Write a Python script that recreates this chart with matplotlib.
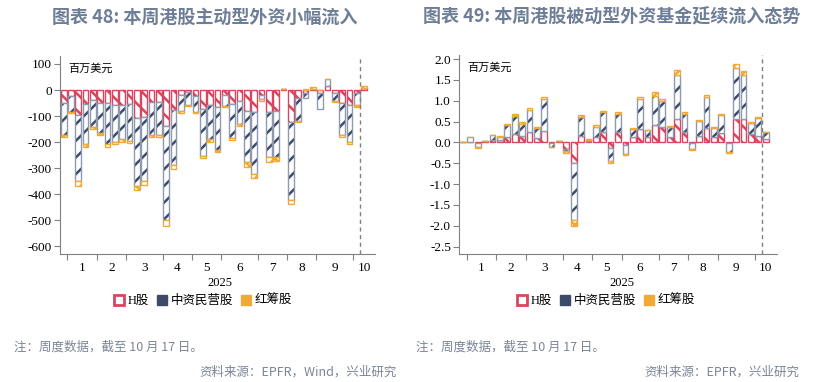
import matplotlib.pyplot as plt
import numpy as np
from matplotlib.patches import Patch

plt.rcParams['axes.unicode_minus'] = False
plt.rcParams['hatch.linewidth'] = 1.8
plt.rcParams['font.family'] = ['Noto Sans CJK SC', 'DejaVu Sans']

# DATOS
# -----
# mes de cada semana (la primera es la última semana de 2024)
meses = [12, 1, 1, 1, 1, 2, 2, 2, 2, 3, 3, 3, 3, 3, 4, 4, 4, 4, 5, 5, 5, 5,
         6, 6, 6, 6, 6, 7, 7, 7, 7, 8, 8, 8, 8, 9, 9, 9, 9, 9, 10, 10]

# Gráfico 48: fondos activos (百万美元)
h_48 = [-51, -23, -96, -54, -38, -49, -51, -57, -57, -54, -106, -102, -47, -45,
        -140, -77, -19, -6, -23, -74, -57, -64, -19, -54, -42, -80, -83, -19,
        -83, -80, 3, -121, -32, -10, 5, -13, 15, -13, -51, -57, -13, 8]
priv_48 = [-121, -60, -255, -154, -106, -117, -157, -141, -132, -140, -264, -249,
           -125, -127, -358, -210, -61, -51, -60, -179, -132, -166, -42, -131,
           -88, -198, -239, -17, -175, -178, 2, -300, -87, -22, 0, -61, 26, -28,
           -121, -141, -44, 0]
rojo_48 = [-9, -6, -19, -12, -7, -8, -9, -9, -9, -10, -13, -13, -9, -9, -26, -17,
           -7, -3, -6, -10, -9, -9, -5, -7, -8, -16, -17, -5, -17, -13, 0, -16,
           -5, 4, 6, 0, 0, -4, -7, -10, -7, 7]

# Gráfico 49: fondos pasivos
h_49 = [0.02, 0.02, -0.02, 0.03, 0.05, 0.05, 0.13, 0.20, 0.15, 0.26, 0.10, 0.28,
        -0.01, 0.03, -0.16, -0.50, 0.16, 0.03, 0.13, 0.24, -0.13, 0.26, -0.05,
        0.13, 0.32, 0.13, 0.42, 0.37, 0.13, 0.56, 0.24, -0.02, 0.16, 0.34, 0.13,
        0.22, -0.02, 0.57, 0.56, 0.20, 0.16, 0.08]
priv_49 = [0, 0.10, -0.08, 0, 0.12, 0.09, 0.29, 0.44, 0.29, 0.52, 0.25, 0.76,
           -0.10, 0, -0.05, -1.36, 0.44, 0.04, 0.25, 0.48, -0.32, 0.43, -0.23,
           0.20, 0.73, 0.16, 0.70, 0.63, 0.24, 1.06, 0.44, -0.14, 0.36, 0.74,
           0.21, 0.43, -0.22, 1.21, 1.06, 0.26, 0.42, 0.16]
rojo_49 = [0, 0, -0.03, 0, 0.02, 0.02, 0.03, 0.05, 0.04, 0.05, 0.03, 0.06, -0.01,
           0, -0.04, -0.14, 0.05, 0.01, 0.04, 0.04, -0.04, 0.04, -0.02, 0.02,
           0.03, 0.01, 0.08, 0.05, 0.02, 0.12, 0.04, -0.01, 0.02, 0.05, 0.02,
           0.04, -0.01, 0.10, 0.10, 0.04, 0.03, 0.0]

nombres = ['H股', '中资民营股', '红筹股']

rojo = '#d8455f'
azul = '#3d4a68'
azul_borde = '#8e9ab0'
naranja = '#f0a935'
gris_texto = '#7b8597'
serif = ['Liberation Serif', 'Noto Sans CJK SC']

# (color del rayado, color del borde, rayado)
estilos = [(rojo, rojo, '\\\\'), (azul, azul_borde, '//'), (naranja, naranja, 'xx')]


def dibujar(ax, series, ylim, yticks, fmt):
    x = np.arange(len(meses))
    pos = np.zeros(len(x))
    neg = np.zeros(len(x))
    for vals, (c_rayado, c_borde, rayado) in zip(series, estilos):
        vals = np.array(vals, dtype=float)
        base = np.where(vals >= 0, pos, neg)
        ax.bar(x, vals, 0.78, bottom=base, color='white', edgecolor=c_rayado,
               hatch=rayado, linewidth=0)
        ax.bar(x, vals, 0.78, bottom=base, fill=False, edgecolor=c_borde,
               linewidth=1.0)
        pos += np.where(vals >= 0, vals, 0)
        neg += np.where(vals < 0, vals, 0)

    ax.set_xlim(-0.5, 42.5)
    ax.set_ylim(*ylim)
    ax.axvline(40.45, color='#808080', ls=(0, (3, 2.5)), lw=1)

    # marcas en los cambios de mes y etiquetas en el centro de cada mes
    bordes = [i - 0.5 for i in range(1, len(meses)) if meses[i] != meses[i - 1]]
    limites = bordes + [42.5]
    centros = [(limites[k] + limites[k + 1]) / 2 for k in range(len(limites) - 1)]
    etiquetas = [str(m) for m in sorted(set(meses[1:]), key=meses[1:].index)]
    ax.set_xticks(bordes)
    ax.set_xticklabels([])
    ax.set_xticks(centros, minor=True)
    ax.set_xticklabels(etiquetas, minor=True)
    ax.tick_params(axis='x', which='major', length=4, color='#808080')
    ax.tick_params(axis='x', which='minor', length=0, pad=6, labelsize=9.5,
                   labelfontfamily='Liberation Serif')

    ax.set_yticks(yticks)
    ax.set_yticklabels([fmt.format(v) for v in yticks])
    ax.tick_params(axis='y', length=4, color='#808080', pad=2, labelsize=9.5,
                   labelfontfamily='Liberation Serif')

    for lado in ['top', 'right']:
        ax.spines[lado].set_visible(False)
    for lado in ['left', 'bottom']:
        ax.spines[lado].set_color('#808080')

    ax.text(0.025, 0.965, '百万美元', transform=ax.transAxes, fontsize=8,
            va='top', ha='left')


fig = plt.figure(figsize=(8.24, 3.82), dpi=100)

ax1 = fig.add_axes([0.0728, 0.335, 0.3823, 0.518])
dibujar(ax1, [h_48, priv_48, rojo_48], (-630, 130), list(range(100, -700, -100)), '{:d}')

ax2 = fig.add_axes([0.5574, 0.335, 0.3852, 0.521])
dibujar(ax2, [h_49, priv_49, rojo_49], (-2.68, 2.1),
        [2.0, 1.5, 1.0, 0.5, 0.0, -0.5, -1.0, -1.5, -2.0, -2.5], '{:.1f}')

# títulos
fig.text(205 / 824, 0.955, '图表 48: 本周港股主动型外资小幅流入', ha='center', va='center',
         fontsize=13, fontweight='bold', color='#6e7e97')
fig.text(612 / 824, 0.955, '图表 49: 本周港股被动型外资基金延续流入态势', ha='center',
         va='center', fontsize=13, fontweight='bold', color='#6e7e97')

# año y leyendas
manejadores = [Patch(facecolor='white', edgecolor=rojo, linewidth=2),
               Patch(facecolor=azul, edgecolor=azul, hatch='/'),
               Patch(facecolor=naranja, edgecolor=naranja)]
for cx, cx_ley in [(220 / 824, 203 / 824), (622 / 824, 606 / 824)]:
    fig.text(cx, 0.259, '2025', ha='center', va='center', fontsize=9,
             family='Liberation Serif')
    fig.legend(manejadores, nombres, loc='center', bbox_to_anchor=(cx_ley, 0.212),
               ncol=3, frameon=False, handlelength=0.8, handleheight=0.8,
               columnspacing=0.6, handletextpad=0.3, prop={'family': serif, 'size': 9})

# notas y fuentes
fig.text(14 / 824, 1 - 347 / 382, '注：周度数据，截至 10 月 17 日。', ha='left',
         va='center', fontsize=9, color=gris_texto)
fig.text(416 / 824, 1 - 347 / 382, '注：周度数据，截至 10 月 17 日。', ha='left',
         va='center', fontsize=9, color=gris_texto)
fig.text(397 / 824, 1 - 372 / 382, '资料来源：EPFR，Wind，兴业研究', ha='right',
         va='center', fontsize=9, color=gris_texto)
fig.text(799 / 824, 1 - 372 / 382, '资料来源：EPFR，兴业研究', ha='right',
         va='center', fontsize=9, color=gris_texto)

fig.savefig('out.png', dpi=100)
